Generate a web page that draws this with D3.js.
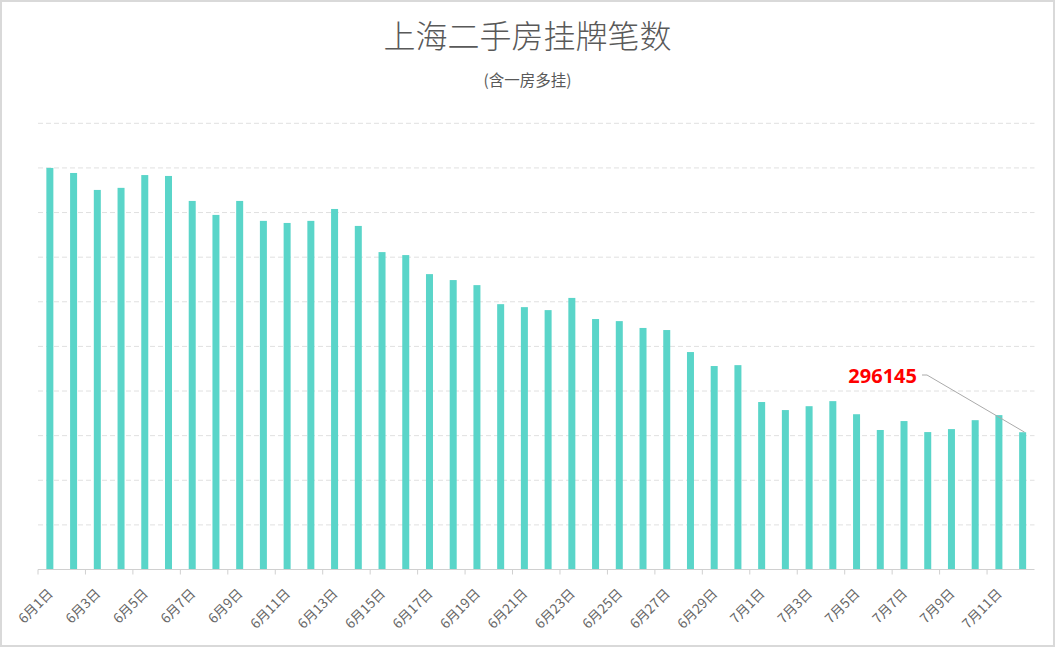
<!DOCTYPE html>
<html>
<head>
<meta charset="utf-8">
<script src="https://cdn.jsdelivr.net/npm/d3@7"></script>
<style>
  html, body { margin: 0; padding: 0; background: #fff; }
  svg { display: block; }
</style>
</head>
<body>
<div id="chart"></div>
<script>
// dates on the x axis
var dates = [
    "6月1日", "6月2日", "6月3日", "6月4日", "6月5日", "6月6日", "6月7日", "6月8日",
    "6月9日", "6月10日", "6月11日", "6月12日", "6月13日", "6月14日", "6月15日", "6月16日",
    "6月17日", "6月18日", "6月19日", "6月20日", "6月21日", "6月22日", "6月23日", "6月24日",
    "6月25日", "6月26日", "6月27日", "6月28日", "6月29日", "6月30日",
    "7月1日", "7月2日", "7月3日", "7月4日", "7月5日", "7月6日", "7月7日", "7月8日",
    "7月9日", "7月10日", "7月11日", "7月12日"
];

// listing counts (last one is labelled)
var listings = [
    385000, 383300, 377600, 378300, 382600, 382300, 373900, 369200,
    373900, 367200, 366500, 367200, 371200, 365500, 356700, 355700,
    349300, 347300, 345600, 339200, 338200, 337200, 341300, 334200,
    333500, 331200, 330500, 323100, 318400, 318700,
    306300, 303600, 304900, 306600, 302200, 296900, 299900, 296200,
    297200, 300200, 301900, 296145
];

// only every other date gets a label
var labelDates = dates.filter(function(d, i) { return i % 2 === 0; });

var titleText = "上海二手房挂牌笔数";
var subtitleText = "(含一房多挂)";

function init() {
    var w = 1055;
    var h = 647;
    var left = 38, right = 1034.5, top = 123.3, bottom = 569.5;

    var svg = d3.select("#chart")
        .append("svg")
        .attr("width", w)
        .attr("height", h);

    // outer frame
    svg.append("rect")
        .attr("x", 1).attr("y", 1)
        .attr("width", w - 2).attr("height", h - 2)
        .attr("fill", "#fff")
        .attr("stroke", "#d9d9d9")
        .attr("stroke-width", 2);

    var xScale = d3.scaleBand()
        .domain(dates)
        .range([left, right])
        .padding(0);

    var yScale = d3.scaleLinear()
        .domain([250000, 400000])
        .range([bottom, top]);

    // dashed grid lines, axis labels are hidden in the original
    var gridTicks = d3.range(265000, 400001, 15000);
    svg.append("g")
        .selectAll("line")
        .data(gridTicks)
        .enter()
        .append("line")
        .attr("x1", left)
        .attr("x2", right)
        .attr("y1", function(d) { return yScale(d); })
        .attr("y2", function(d) { return yScale(d); })
        .attr("stroke", "#e0e0e0")
        .attr("stroke-width", 1)
        .attr("stroke-dasharray", "5,3");

    // bars
    var barW = 7;
    svg.append("g")
        .selectAll("rect")
        .data(listings)
        .enter()
        .append("rect")
        .attr("x", function(d, i) { return xScale(dates[i]) + xScale.bandwidth() / 2 - barW / 2; })
        .attr("y", function(d) { return yScale(d); })
        .attr("width", barW)
        .attr("height", function(d) { return bottom - yScale(d); })
        .attr("fill", "#5ad5c9");

    // x axis: labels centred on the bands, ticks on band edges
    var xAxis = svg.append("g")
        .attr("transform", "translate(0," + bottom + ")")
        .call(d3.axisBottom(xScale).tickValues(labelDates).tickSize(0).tickPadding(0));
    xAxis.select(".domain").remove();
    xAxis.selectAll("text")
        .attr("font-family", "'Noto Sans CJK SC', 'Noto Sans', sans-serif")
        .attr("font-size", "13.5px")
        .attr("fill", "#666")
        .attr("dy", null)
        .attr("y", 0)
        .attr("text-anchor", "end")
        .attr("transform", "translate(4,25) rotate(-45)");

    svg.append("line")
        .attr("x1", left).attr("x2", right)
        .attr("y1", bottom).attr("y2", bottom)
        .attr("stroke", "#d0d0d0");

    svg.append("g")
        .selectAll("line")
        .data(labelDates)
        .enter()
        .append("line")
        .attr("x1", function(d) { return xScale(d); })
        .attr("x2", function(d) { return xScale(d); })
        .attr("y1", bottom)
        .attr("y2", bottom + 5)
        .attr("stroke", "#d0d0d0");

    // titles
    svg.append("text")
        .attr("x", w / 2)
        .attr("y", 48)
        .attr("text-anchor", "middle")
        .attr("font-family", "'Noto Sans CJK SC', sans-serif")
        .attr("font-size", "32px")
        .attr("font-weight", 300)
        .attr("fill", "#595959")
        .text(titleText);

    svg.append("text")
        .attr("x", w / 2)
        .attr("y", 86)
        .attr("text-anchor", "middle")
        .attr("font-family", "'Noto Sans CJK SC', sans-serif")
        .attr("font-size", "15.5px")
        .attr("fill", "#595959")
        .text(subtitleText);

    // callout for the latest value
    var lastIdx = listings.length - 1;
    var lx = xScale(dates[lastIdx]) + xScale.bandwidth() / 2;
    var ly = yScale(listings[lastIdx]);
    svg.append("polyline")
        .attr("points", [[922, 375], [927, 375], [lx + 2, ly]].join(" "))
        .attr("fill", "none")
        .attr("stroke", "#aaa")
        .attr("stroke-width", 1);

    svg.append("text")
        .attr("x", 917)
        .attr("y", 383)
        .attr("text-anchor", "end")
        .attr("font-family", "'Noto Sans', 'DejaVu Sans', sans-serif")
        .attr("font-size", "20px")
        .attr("font-weight", "bold")
        .attr("fill", "#ff0000")
        .text(listings[lastIdx]);
}

window.onload = init;
</script>
</body>
</html>
